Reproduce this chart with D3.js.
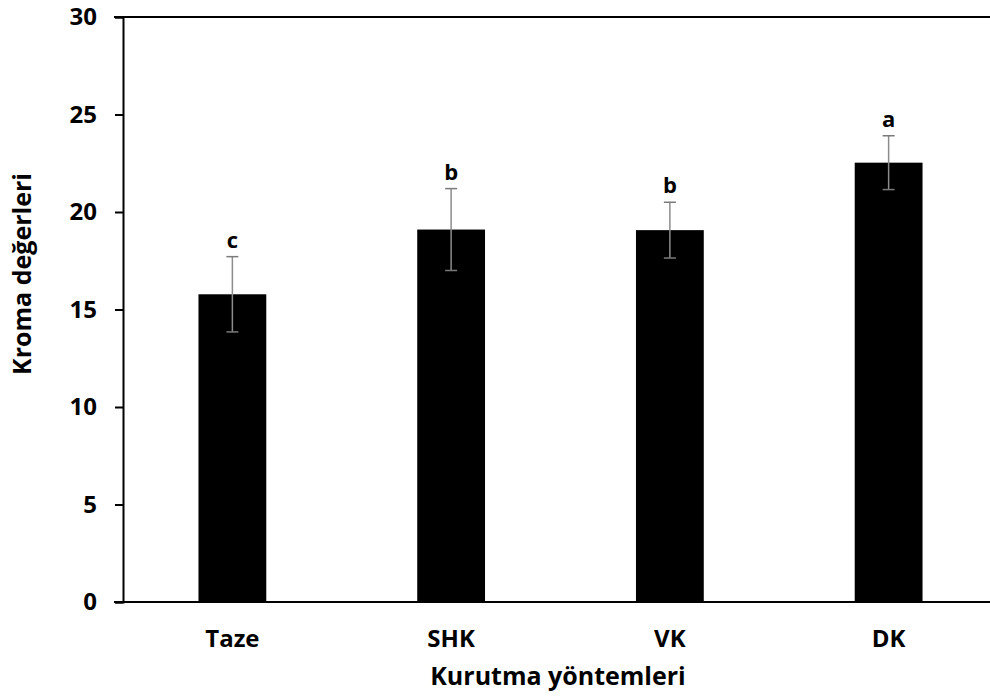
<!DOCTYPE html>
<html>
<head>
<meta charset="utf-8">
<script src="https://cdn.jsdelivr.net/npm/d3@7"></script>
<style>
  body { margin: 0; background: #fff; }
  svg text { font-family: "Open Sans", "DejaVu Sans", sans-serif; font-weight: bold; fill: #000; }
</style>
</head>
<body>
<svg id="chart" width="990" height="700"></svg>
<script>
// data
var categories = ["Taze", "SHK", "VK", "DK"];
var means = [15.78, 19.1, 19.07, 22.53];
var errors = [1.93, 2.1, 1.43, 1.38];
var letters = ["c", "b", "b", "a"];
var yTicks = [0, 5, 10, 15, 20, 25, 30];

var svg = d3.select("#chart");

var x = d3.scaleBand()
  .domain(categories)
  .range([123, 998])
  .paddingInner(0.69)
  .paddingOuter(0.345);

var y = d3.scaleLinear()
  .domain([0, 30])
  .range([602, 17]);

//* y axis
var yAxis = svg.append("g")
  .attr("transform", "translate(123,0)")
  .call(d3.axisLeft(y).tickValues(yTicks).tickSize(8).tickPadding(18));
yAxis.select(".domain").attr("stroke", "#000").attr("stroke-width", 2);
yAxis.selectAll(".tick line").attr("stroke", "#000").attr("stroke-width", 2);
yAxis.selectAll(".tick text").style("font-size", "24px");

//* top line at max
svg.append("line")
  .attr("x1", 114).attr("x2", 990)
  .attr("y1", y(30)).attr("y2", y(30))
  .attr("stroke", "#000").attr("stroke-width", 2);

//* bars
svg.selectAll(".bar")
  .data(categories)
  .enter().append("rect")
  .attr("class", "bar")
  .attr("x", function(d) { return x(d); })
  .attr("width", x.bandwidth())
  .attr("y", function(d, i) { return y(means[i]); })
  .attr("height", function(d, i) { return y(0) - y(means[i]); })
  .attr("fill", "#000");

//* x axis line
svg.append("line")
  .attr("x1", 114).attr("x2", 990)
  .attr("y1", y(0)).attr("y2", y(0))
  .attr("stroke", "#000").attr("stroke-width", 2);

//* error bars
var eb = svg.selectAll(".err")
  .data(categories)
  .enter().append("g")
  .attr("class", "err")
  .attr("transform", function(d) { return "translate(" + (x(d) + x.bandwidth() / 2) + ",0)"; });

eb.append("line")
  .attr("y1", function(d, i) { return y(means[i] + errors[i]); })
  .attr("y2", function(d, i) { return y(means[i] - errors[i]); })
  .attr("stroke", "#8c8c8c").attr("stroke-width", 1.5);

[1, -1].forEach(function(s) {
  eb.append("line")
    .attr("x1", -6).attr("x2", 6)
    .attr("y1", function(d, i) { return y(means[i] + s * errors[i]); })
    .attr("y2", function(d, i) { return y(means[i] + s * errors[i]); })
    .attr("stroke", "#7a7a7a").attr("stroke-width", 1.5);
});

//* significance letters
eb.append("text")
  .attr("y", function(d, i) { return y(means[i] + errors[i]) - 9; })
  .style("text-anchor", "middle")
  .style("font-size", "22px")
  .text(function(d, i) { return letters[i]; });

//* category labels
svg.selectAll(".cat")
  .data(categories)
  .enter().append("text")
  .attr("class", "cat")
  .attr("x", function(d) { return x(d) + x.bandwidth() / 2; })
  .attr("y", 647)
  .style("text-anchor", "middle")
  .style("font-size", "24px")
  .text(function(d) { return d; });

//* axis titles
svg.append("text")
  .attr("x", 558).attr("y", 685)
  .style("text-anchor", "middle")
  .style("font-size", "25px")
  .text("Kurutma yöntemleri");

svg.append("text")
  .attr("transform", "translate(31,274) rotate(-90)")
  .style("text-anchor", "middle")
  .style("font-size", "25px")
  .text("Kroma değerleri");
</script>
</body>
</html>
